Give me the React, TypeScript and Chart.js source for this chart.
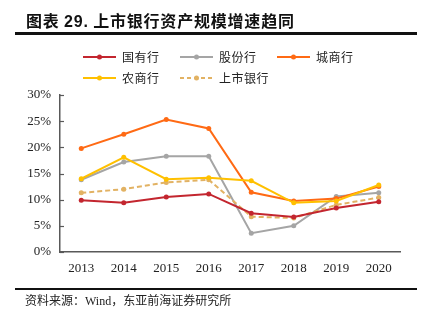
import React, { useEffect, useRef } from "react";
import { Chart, registerables } from "chart.js";

Chart.register(...registerables);

const years = ["2013", "2014", "2015", "2016", "2017", "2018", "2019", "2020"];
const stateOwned = [9.9, 9.4, 10.5, 11.1, 7.4, 6.7, 8.4, 9.6];
const jointStock = [13.8, 17.2, 18.3, 18.3, 3.6, 5.0, 10.6, 11.3];
const cityBanks = [19.8, 22.5, 25.3, 23.6, 11.4, 9.75, 10.2, 12.5];
const ruralBanks = [14.0, 18.1, 13.9, 14.2, 13.6, 9.4, 9.75, 12.8];
const listedBanks = [11.3, 12.0, 13.3, 13.8, 6.75, 6.5, 9.0, 10.4];
const yTicks = [0, 5, 10, 15, 20, 25, 30];

const seriesNames = ["国有行", "股份行", "城商行", "农商行", "上市银行"];
const seriesColors = ["#C3262F", "#A5A5A5", "#FF6A14", "#FFC000", "#E2B263"];
const seriesDashed = [false, false, false, false, true];
const seriesData = [stateOwned, jointStock, cityBanks, ruralBanks, listedBanks];

const serif = "'Liberation Serif', 'Times New Roman', serif";
const cjk = "'Noto Sans CJK SC', sans-serif";

function LegendItem({ name, color, dashed, left, top }: any) {
  return (
    <div style={{ position: "absolute", left, top, height: 14, display: "flex", alignItems: "center" }}>
      <svg width={33} height={10} style={{ display: "block" }}>
        <line x1={0} y1={5} x2={33} y2={5} stroke={color} strokeWidth={2} strokeDasharray={dashed ? "4 3" : undefined} />
        <circle cx={16.5} cy={5} r={2.5} fill={color} />
      </svg>
      <span style={{ marginLeft: 6, fontFamily: cjk, fontSize: 12, color: "#222", letterSpacing: 0.5, lineHeight: "14px" }}>{name}</span>
    </div>
  );
}

export default function App() {
  const ref = useRef<HTMLCanvasElement | null>(null);
  useEffect(() => {
    document.body.style.margin = "0";
    const ctx = ref.current!;
    const innerTicks = {
      id: "innerTicks",
      afterDraw(chart: any) {
        const y = chart.scales.y;
        const c = chart.ctx;
        c.save();
        c.strokeStyle = "#595959";
        c.lineWidth = 1.2;
        for (const v of yTicks) {
          const py = Math.round(y.getPixelForValue(v)) + 0.5;
          c.beginPath();
          c.moveTo(chart.chartArea.left, py);
          c.lineTo(chart.chartArea.left + 4, py);
          c.stroke();
        }
        c.restore();
      },
    };
    const chart = new Chart(ctx, {
      type: "line",
      data: {
        labels: years,
        datasets: seriesData.map((d, i) => ({
          label: seriesNames[i],
          data: d,
          borderColor: seriesColors[i],
          backgroundColor: seriesColors[i],
          borderWidth: 2,
          borderDash: seriesDashed[i] ? [5, 3] : [],
          pointRadius: 2.5,
          pointBorderWidth: 0,
          pointBackgroundColor: seriesColors[i],
          tension: 0,
          order: [1, 4, 2, 0, 3][i],
        })),
      },
      options: {
        animation: false,
        responsive: false,
        maintainAspectRatio: false,
        layout: { padding: { top: 95, right: 26, left: 0, bottom: 0 } },
        plugins: { legend: { display: false }, tooltip: { enabled: false }, title: { display: false } },
        scales: {
          x: {
            offset: true,
            grid: { display: false, drawTicks: false },
            border: { display: true, color: "#595959", width: 1.5 },
            ticks: { font: { family: serif, size: 13 }, color: "#222", padding: 9, maxRotation: 0 },
            afterFit: (s: any) => { s.height = 70; },
          },
          y: {
            min: 0,
            max: 30,
            grid: { display: false, drawTicks: false },
            border: { display: true, color: "#595959", width: 1.5 },
            ticks: {
              stepSize: 5,
              font: { family: serif, size: 13 },
              color: "#222",
              padding: 9,
              callback: (v: any) => v + "%",
            },
            afterFit: (s: any) => { s.width = 60; },
          },
        },
      },
      plugins: [innerTicks],
    });
    return () => chart.destroy();
  }, []);

  return (
    <div style={{ position: "fixed", left: 0, top: 0, width: 426, height: 322, background: "#fff", overflow: "hidden" }}>
      <canvas ref={ref} width={426} height={322} style={{ position: "absolute", left: 0, top: 0, width: 426, height: 322 }} />
      <div style={{ position: "absolute", left: 26, top: 10, fontFamily: cjk, fontWeight: 700, fontSize: 16, letterSpacing: 0.8, color: "#111", lineHeight: "20px", whiteSpace: "nowrap" }}>
        图表 <span style={{ fontFamily: "'Liberation Sans', Arial, sans-serif" }}>29.</span> 上市银行资产规模增速趋同
      </div>
      <div style={{ position: "absolute", left: 15, top: 32, width: 402, height: 2.5, background: "#111" }} />
      {seriesNames.map((n, i) => (
        <LegendItem key={n} name={n} color={seriesColors[i]} dashed={seriesDashed[i]}
          left={[83, 180, 277, 83, 180][i]} top={i < 3 ? 50 : 71} />
      ))}
      <div style={{ position: "absolute", left: 15, top: 288, width: 402, height: 1.5, background: "#111" }} />
      <div style={{ position: "absolute", left: 25, top: 292, fontFamily: cjk, fontSize: 12, color: "#222", lineHeight: "16px", whiteSpace: "nowrap" }}>
        资料来源：<span style={{ fontFamily: serif }}>Wind</span>，东亚前海证券研究所
      </div>
    </div>
  );
}
